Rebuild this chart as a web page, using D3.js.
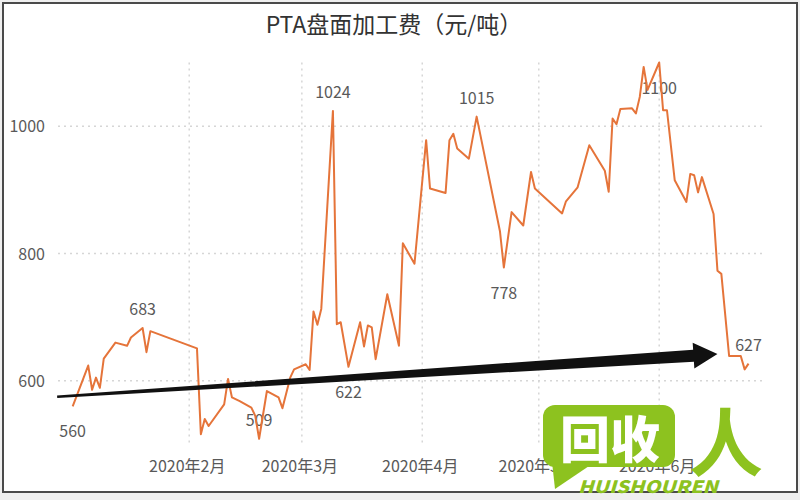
<!DOCTYPE html>
<html><head><meta charset="utf-8">
<script src="https://cdn.jsdelivr.net/npm/d3@7"></script>
<style>
html,body{margin:0;padding:0;background:#efefef;}
svg{display:block;}
text{font-family:"Noto Sans CJK SC","Noto Sans",sans-serif;}
</style></head>
<body>
<svg id="chart" width="800" height="500"></svg>
<script>
// ---- data ----
const title = "PTA盘面加工费（元/吨）";
const dates = ["2020-01-02","2020-01-06","2020-01-07","2020-01-08","2020-01-09","2020-01-10","2020-01-13","2020-01-16","2020-01-17","2020-01-20","2020-01-21","2020-01-22",
"2020-02-03","2020-02-04","2020-02-05","2020-02-06","2020-02-10","2020-02-11","2020-02-12","2020-02-14","2020-02-17","2020-02-18","2020-02-19","2020-02-21","2020-02-24","2020-02-25","2020-02-27","2020-02-28",
"2020-03-02","2020-03-03","2020-03-04","2020-03-05","2020-03-06","2020-03-09","2020-03-10","2020-03-11","2020-03-13","2020-03-16","2020-03-17","2020-03-18","2020-03-19","2020-03-20","2020-03-23","2020-03-26","2020-03-27","2020-03-30",
"2020-04-02","2020-04-03","2020-04-07","2020-04-08","2020-04-09","2020-04-10","2020-04-13","2020-04-15","2020-04-21","2020-04-22","2020-04-24","2020-04-27","2020-04-29","2020-04-30",
"2020-05-07","2020-05-08","2020-05-11","2020-05-14","2020-05-18","2020-05-19","2020-05-20","2020-05-21","2020-05-22","2020-05-25","2020-05-26","2020-05-27","2020-05-28","2020-05-29",
"2020-06-01","2020-06-02","2020-06-03","2020-06-05","2020-06-08","2020-06-09","2020-06-10","2020-06-11","2020-06-12","2020-06-15","2020-06-16","2020-06-17","2020-06-19","2020-06-22","2020-06-23","2020-06-24"];
const values = [560,624,586,605,589,635,660,655,668,683,645,678,
651,516,540,529,563,603,574,568,558,545,509,584,574,557,605,618,
626,617,709,688,713,1024,689,692,622,692,654,687,684,634,736,655,816,784,
978,902,895,978,988,965,949,1015,835,778,865,844,928,902,
863,882,904,970,930,897,1012,1003,1027,1028,1020,1046,1093,1057,
1100,1025,1025,915,881,925,923,896,920,862,773,768,639,639,618,627];
const yTicks = [600,800,1000];
const monthTicks = ["2020-02-01","2020-03-01","2020-04-01","2020-05-01","2020-06-01"];
const monthLabels = ["2020年2月","2020年3月","2020年4月","2020年5月","2020年6月"];
const labelDates = ["2020-01-02","2020-01-20","2020-02-19","2020-03-09","2020-03-13","2020-04-15","2020-04-22","2020-06-01","2020-06-24"];
const labelTexts = ["560","683","509","1024","622","1015","778","1100","627"];
const labelSides = ["below","above","above","above","below","above","below","below","above"];
const arrowFrom = ["2019-12-29", 575];
const arrowTo = ["2020-06-16", 642];

// ---- drawing ----
const parse = s => { const [y,m,d] = s.split("-").map(Number); return new Date(Date.UTC(y,m-1,d)); };
const svg = d3.select("#chart");

const x = d3.scaleUtc().domain([parse("2020-01-01"), parse("2020-06-01")]).range([68.8, 659.2]);
const y = d3.scaleLinear().domain([500, 1100]).range([444.5, 62.5]);
const plotLeft = 58, plotRight = 762;

svg.append("rect").attr("x",0).attr("y",0).attr("width",800).attr("height",500).attr("fill","#efefef");
svg.append("rect").attr("x",3).attr("y",3).attr("width",794).attr("height",489)
  .attr("fill","#ffffff").attr("stroke","#4a4a4a").attr("stroke-width",2);

svg.append("text").attr("x",394).attr("y",33).attr("text-anchor","middle")
  .attr("font-size",23).attr("fill","#333").text(title);

// horizontal grid
svg.append("g").selectAll("line").data(yTicks).join("line")
  .attr("x1",plotLeft).attr("x2",plotRight)
  .attr("y1",d=>y(d)).attr("y2",d=>y(d))
  .attr("stroke","#d6d6d6").attr("stroke-width",1.5).attr("stroke-dasharray","2,4");
// vertical grid
svg.append("g").selectAll("line").data(monthTicks).join("line")
  .attr("x1",d=>x(parse(d))).attr("x2",d=>x(parse(d)))
  .attr("y1",y(1100)).attr("y2",y(500))
  .attr("stroke","#d6d6d6").attr("stroke-width",1.5).attr("stroke-dasharray","2,4");

// y tick labels
svg.append("g").selectAll("text").data(yTicks).join("text")
  .attr("x",45).attr("y",d=>y(d)+6).attr("text-anchor","end")
  .attr("font-size",16).attr("fill","#595959").text(d=>d);
// month labels
svg.append("g").selectAll("text").data(monthTicks).join("text")
  .attr("x",d=>x(parse(d))-2).attr("y",472).attr("text-anchor","middle")
  .attr("font-size",16).attr("fill","#595959").text((d,i)=>monthLabels[i]);

// data labels
const lab = labelDates.map((d,i)=>({date:parse(d), v:+labelTexts[i], t:labelTexts[i], side:labelSides[i]}));
svg.append("g").selectAll("text").data(lab).join("text")
  .attr("x",d=>x(d.date)).attr("y",d=>y(d.v) + (d.side==="above" ? -13 : 31))
  .attr("text-anchor","middle").attr("font-size",16).attr("fill","#595959").text(d=>d.t);

// line
const series = dates.map((d,i)=>({date:parse(d), v:values[i]}));
svg.append("path").datum(series)
  .attr("fill","none").attr("stroke","#e5743a").attr("stroke-width",2).attr("stroke-linejoin","round")
  .attr("d", d3.line().x(d=>x(d.date)).y(d=>y(d.v)));

// arrow annotation (tapered)
(function(){
  const x0 = x(parse(arrowFrom[0])), y0 = y(arrowFrom[1]);
  const x1 = x(parse(arrowTo[0])), y1 = y(arrowTo[1]);
  const dx = x1-x0, dy = y1-y0, L = Math.hypot(dx,dy);
  const ux = dx/L, uy = dy/L, nx = -uy, ny = ux;
  const headLen = 24, w0 = 1.2, w1 = 6, hw = 13;
  const bx = x1-ux*headLen, by = y1-uy*headLen;
  const pts = [
    [x0+nx*w0, y0+ny*w0], [bx+nx*w1, by+ny*w1], [bx+nx*hw, by+ny*hw], [x1,y1],
    [bx-nx*hw, by-ny*hw], [bx-nx*w1, by-ny*w1], [x0-nx*w0, y0-ny*w0]
  ];
  svg.append("path").attr("d", d3.line()(pts)+"Z").attr("fill","#111");
})();

// watermark
const wm = svg.append("g");
const green = "#8dc21f";
wm.append("path").attr("d","M552,462 L555,489 L592,464 Z").attr("fill",green);
wm.append("rect").attr("x",543).attr("y",405).attr("width",132).attr("height",62).attr("rx",12).attr("fill",green);
wm.append("text").attr("x",610).attr("y",458).attr("text-anchor","middle").attr("font-size",50)
  .attr("font-weight",900).attr("fill","#fff").text("回收");
wm.append("text").attr("x",726).attr("y",470).attr("text-anchor","middle").attr("font-size",74)
  .attr("font-weight",700).attr("fill",green).text("人");
wm.append("text").attr("x",578).attr("y",493).attr("font-size",17).attr("font-weight",900)
  .attr("font-style","italic").attr("fill",green).attr("textLength",140).attr("lengthAdjust","spacingAndGlyphs")
  .attr("font-family","'DejaVu Sans',sans-serif").text("HUISHOUREN");
</script>
</body></html>
